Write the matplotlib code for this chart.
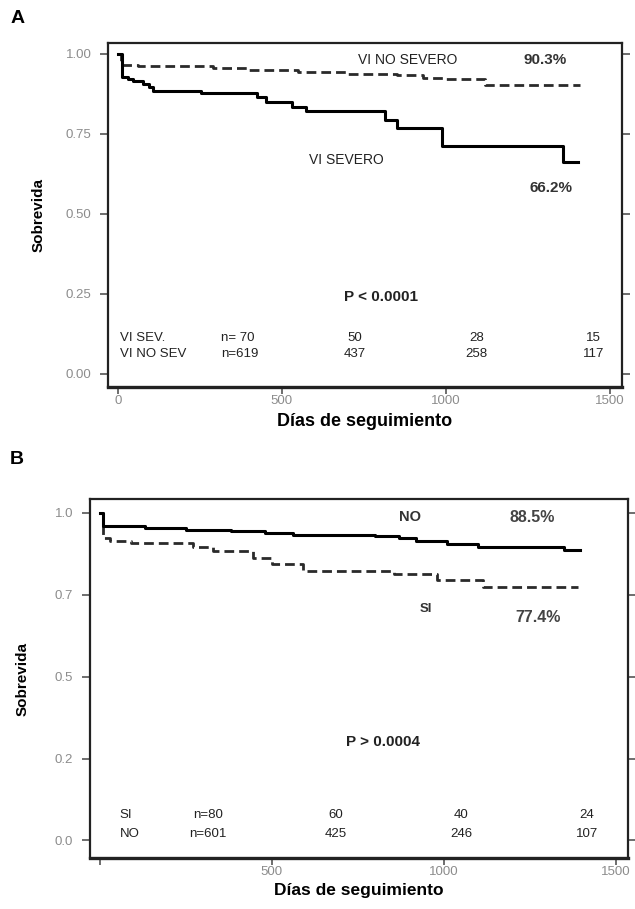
import matplotlib
matplotlib.use("Agg")
import matplotlib.pyplot as plt

plt.rcParams['font.family'] = ['Liberation Sans', 'DejaVu Sans']

# Panel A - Kaplan-Meier, VI severo vs VI no severo
a_sev_t = [0, 12, 30, 47, 77, 95, 108, 255, 423, 453, 530, 575, 814, 850, 987, 1358, 1403]
a_sev_s = [1.0, 0.929, 0.921, 0.914, 0.905, 0.898, 0.885, 0.877, 0.865, 0.851, 0.835, 0.820,
           0.794, 0.768, 0.7125, 0.663, 0.663]
a_nosev_t = [0, 10, 60, 290, 400, 550, 700, 850, 930, 1000, 1120, 1410]
a_nosev_s = [1.0, 0.966, 0.963, 0.955, 0.950, 0.942, 0.938, 0.933, 0.925, 0.920, 0.904, 0.904]

a_risk_rows = ["VI SEV.", "VI NO SEV"]
a_risk_n = ["n= 70", "n=619"]
a_risk_vals = [["50", "28", "15"], ["437", "258", "117"]]

# Panel B - NO vs SI
b_no_t = [0, 8, 130, 250, 380, 480, 560, 800, 870, 920, 1010, 1100, 1350, 1395]
b_no_s = [1.0, 0.959, 0.954, 0.949, 0.944, 0.937, 0.932, 0.928, 0.922, 0.914, 0.905, 0.895,
          0.885, 0.885]
b_si_t = [0, 10, 30, 90, 270, 330, 445, 500, 590, 855, 980, 1115, 1390]
b_si_s = [1.0, 0.924, 0.914, 0.907, 0.895, 0.884, 0.862, 0.843, 0.823, 0.813, 0.795, 0.773,
          0.773]

b_risk_rows = ["SI", "NO"]
b_risk_n = ["n=80", "n=601"]
b_risk_vals = [["60", "40", "24"], ["425", "246", "107"]]

xticks = [0, 500, 1000, 1500]
a_xticklabels = ["0", "500", "1000", "1500"]
b_xticklabels = ["", "500", "1000", "1500"]
yticks = [0.0, 0.25, 0.5, 0.75, 1.0]
a_yticklabels = ["0.00", "0.25", "0.50", "0.75", "1.00"]
b_yticklabels = ["0.0", "0.2", "0.5", "0.7", "1.0"]

fig = plt.figure(figsize=(6.35, 9.09), dpi=100)
axA = fig.add_axes([0.1701, 0.5743, 0.8094, 0.3784])
axB = fig.add_axes([0.1417, 0.0560, 0.8472, 0.3950])

tick_gray = "#8c8c8c"


def style_axes(ax, xlabels, ylabels):
    ax.set_xticks(xticks)
    ax.set_xticklabels(xlabels)
    ax.set_yticks(yticks)
    ax.set_yticklabels(ylabels)
    ax.tick_params(axis="both", direction="out", length=6, width=1.2, color="#555555",
                   labelcolor=tick_gray, labelsize=9.5)
    ax.tick_params(axis="y", right=True, pad=6)
    ax.tick_params(axis="x", length=5, pad=1)
    for s in ax.spines.values():
        s.set_linewidth(1.6)
        s.set_color("#222222")
    ax.spines["bottom"].set_linewidth(2.4)


# ---- Panel A
axA.step(a_nosev_t, a_nosev_s, where="post", color="#2a2a2a", lw=2.0, dashes=(3.5, 1.8))
axA.step(a_sev_t, a_sev_s, where="post", color="black", lw=2.2)
axA.set_xlim(-30, 1537)
axA.set_ylim(-0.041, 1.034)
style_axes(axA, a_xticklabels, a_yticklabels)
axA.set_ylabel("Sobrevida", fontsize=11, fontweight="bold", labelpad=14)
axA.set_xlabel("Días de seguimiento", fontsize=13, fontweight="bold", labelpad=4)

axA.text(884, 0.98, "VI NO SEVERO", ha="center", va="center", fontsize=10, color="#222222")
axA.text(1302, 0.98, "90.3%", ha="center", va="center", fontsize=11, fontweight="bold",
         color="#333333")
axA.text(698, 0.669, "VI SEVERO", ha="center", va="center", fontsize=10, color="#222222")
axA.text(1320, 0.581, "66.2%", ha="center", va="center", fontsize=11, fontweight="bold",
         color="#333333")
axA.text(802, 0.241, "P < 0.0001", ha="center", va="center", fontsize=11, fontweight="bold",
         color="#222222")

a_row_y = [0.1125, 0.0625]
a_col_x = [722, 1094, 1451]
for r in range(2):
    axA.text(6, a_row_y[r], a_risk_rows[r], ha="left", va="center", fontsize=9.5, color="#222222")
    axA.text(314, a_row_y[r], a_risk_n[r], ha="left", va="center", fontsize=9.5, color="#222222")
    for c in range(3):
        axA.text(a_col_x[c], a_row_y[r], a_risk_vals[r][c], ha="center", va="center",
                 fontsize=9.5, color="#222222")

# ---- Panel B
axB.step(b_si_t, b_si_s, where="post", color="#2a2a2a", lw=2.0, dashes=(3.5, 1.8))
axB.step(b_no_t, b_no_s, where="post", color="black", lw=2.2)
axB.set_xlim(-29, 1535)
axB.set_ylim(-0.054, 1.042)
style_axes(axB, b_xticklabels, b_yticklabels)
axB.set_ylabel("Sobrevida", fontsize=11, fontweight="bold", labelpad=18)
axB.set_xlabel("Días de seguimiento", fontsize=12.5, fontweight="bold", labelpad=3)

axB.text(901, 0.987, "NO", ha="center", va="center", fontsize=10.5, fontweight="bold",
         color="#333333")
axB.text(1256, 0.985, "88.5%", ha="center", va="center", fontsize=11.5, fontweight="bold",
         color="#444444")
axB.text(948, 0.705, "SI", ha="center", va="center", fontsize=9.5, fontweight="bold",
         color="#333333")
axB.text(1273, 0.681, "77.4%", ha="center", va="center", fontsize=11.5, fontweight="bold",
         color="#444444")
axB.text(823, 0.301, "P > 0.0004", ha="center", va="center", fontsize=11, fontweight="bold",
         color="#222222")

b_row_y = [0.078, 0.021]
b_col_x = [686, 1050, 1416]
for r in range(2):
    axB.text(58, b_row_y[r], b_risk_rows[r], ha="left", va="center", fontsize=9.5, color="#222222")
    axB.text(314, b_row_y[r], b_risk_n[r], ha="center", va="center", fontsize=9.5, color="#222222")
    for c in range(3):
        axB.text(b_col_x[c], b_row_y[r], b_risk_vals[r][c], ha="center", va="center",
                 fontsize=9.5, color="#222222")

fig.text(0.027, 0.980, "A", fontsize=14, fontweight="bold", ha="center", va="center")
fig.text(0.027, 0.494, "B", fontsize=14, fontweight="bold", ha="center", va="center")

fig.savefig("out.png", dpi=100)
